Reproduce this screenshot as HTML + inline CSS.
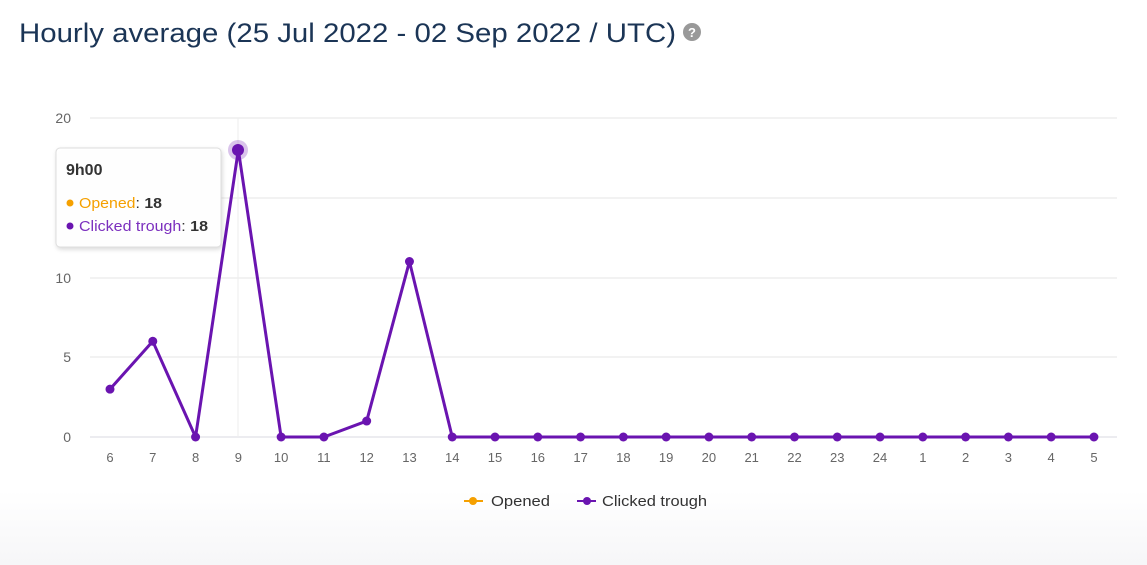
<!DOCTYPE html>
<html><head><style>
body{margin:0;width:1147px;height:565px;overflow:hidden;background:linear-gradient(#fff 0,#fff 490px,#f6f6f8 565px);font-family:"Liberation Sans",sans-serif;}
</style></head><body>
<svg width="1147" height="565" xmlns="http://www.w3.org/2000/svg" style="position:absolute;left:0;top:0">
<text x="19" y="42" font-size="27" fill="#1b3556" textLength="657" lengthAdjust="spacingAndGlyphs" style="font-weight:500">Hourly average (25 Jul 2022 - 02 Sep 2022 / UTC)</text>
<circle cx="692" cy="32" r="9" fill="#999"/><text x="692" y="37" font-size="13" font-weight="bold" fill="#fff" text-anchor="middle">?</text>
<g stroke="#e6e6e6" stroke-width="1">
<line x1="90" y1="118" x2="1117" y2="118"/><line x1="90" y1="198" x2="1117" y2="198"/><line x1="90" y1="278" x2="1117" y2="278"/><line x1="90" y1="357" x2="1117" y2="357"/><line x1="90" y1="437" x2="1117" y2="437" stroke="#d8d8e0"/>
<line x1="238" y1="118" x2="238" y2="437" stroke="#eee"/>
</g>
<g font-size="14" fill="#666" text-anchor="end">
<text x="71" y="123">20</text><text x="71" y="283">10</text><text x="71" y="362">5</text><text x="71" y="442">0</text>
</g>
<g id="xl" font-size="13" fill="#666" text-anchor="middle"></g>
<polyline id="ln" fill="none" stroke="#6a14b0" stroke-width="3" stroke-linejoin="round"/>
<g id="pts" fill="#6a14b0"></g>
<circle cx="238" cy="150" r="10" fill="#6a14b0" fill-opacity="0.25"/>
<circle cx="238" cy="150" r="6" fill="#6a14b0"/>
<rect x="56" y="148" width="165" height="99" rx="4" fill="#fff" fill-opacity="0.96" stroke="#ddd" style="filter:drop-shadow(1px 2px 2px rgba(0,0,0,.15))"/>
<text x="66" y="175" font-size="16" font-weight="bold" fill="#333">9h00</text>
<circle cx="70" cy="203" r="3.5" fill="#f5a000"/>
<text x="79" y="208" font-size="15" fill="#f5a000" textLength="83" lengthAdjust="spacingAndGlyphs">Opened<tspan fill="#333">: </tspan><tspan fill="#333" font-weight="bold">18</tspan></text>
<circle cx="70" cy="226" r="3.5" fill="#6a14b0"/>
<text x="79" y="231" font-size="15" fill="#7b2fbe" textLength="129" lengthAdjust="spacingAndGlyphs">Clicked trough<tspan fill="#333">: </tspan><tspan fill="#333" font-weight="bold">18</tspan></text>
<line x1="464" y1="501" x2="483" y2="501" stroke="#f5a000" stroke-width="2"/><circle cx="473" cy="501" r="4" fill="#f5a000"/>
<text x="491" y="506" font-size="15" fill="#333" textLength="59" lengthAdjust="spacingAndGlyphs">Opened</text>
<line x1="577" y1="501" x2="596" y2="501" stroke="#6a14b0" stroke-width="2"/><circle cx="587" cy="501" r="4" fill="#6a14b0"/>
<text x="602" y="506" font-size="15" fill="#333" textLength="105" lengthAdjust="spacingAndGlyphs">Clicked trough</text>
</svg>
<script>
var labels=[6,7,8,9,10,11,12,13,14,15,16,17,18,19,20,21,22,23,24,1,2,3,4,5];
var vals=[3,6,0,18,0,0,1,11,0,0,0,0,0,0,0,0,0,0,0,0,0,0,0,0];
var ns="http://www.w3.org/2000/svg",pts=[],xl=document.getElementById('xl'),g=document.getElementById('pts');
labels.forEach(function(l,i){var x=110+i*42.78,y=437-vals[i]*15.95;pts.push(x+","+y);
var t=document.createElementNS(ns,'text');t.setAttribute('x',x);t.setAttribute('y',462);t.textContent=l;xl.appendChild(t);
if(i!=3){var c=document.createElementNS(ns,'circle');c.setAttribute('cx',x);c.setAttribute('cy',y);c.setAttribute('r',4.5);g.appendChild(c);}});
document.getElementById('ln').setAttribute('points',pts.join(' '));
</script>
</body></html>
